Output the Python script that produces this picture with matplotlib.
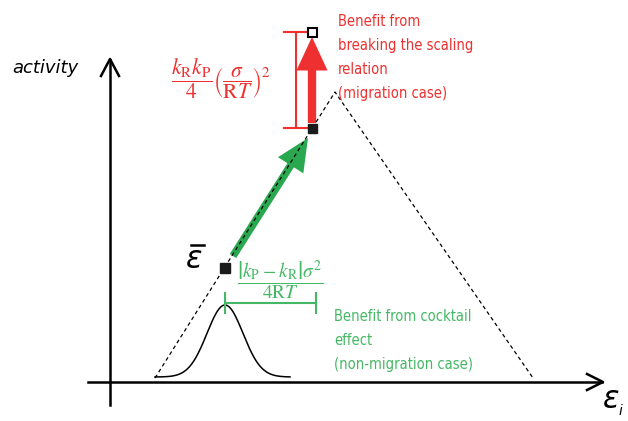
import numpy as np
import matplotlib.pyplot as plt
from matplotlib.patches import FancyArrowPatch, Rectangle

plt.rcParams['mathtext.fontset'] = 'stix'

W, H = 628, 421

# schematic geometry (pixel coordinates, y downward)
tri_x = [155, 335, 533]
tri_y = [378, 92, 378]
gauss_center = 225
gauss_width = 18
gauss_base = 377
gauss_peak = 305
gauss_span = (155, 290)
eps_bar = (225, 268)       # mean energy point (on scaling line)
eps_opt = (312, 128)       # point reached via cocktail effect
eps_break = (312, 32)      # point after breaking scaling relation

RED = '#ee3030'
GREEN = '#2aa84f'
GREEN_TXT = '#44b864'
NARROW = dict(family='DejaVu Sans', fontstretch='condensed')

fig = plt.figure(figsize=(W / 100, H / 100), dpi=100)
ax = fig.add_axes([0, 0, 1, 1])
ax.set_xlim(0, W)
ax.set_ylim(H, 0)
ax.axis('off')

# axes with open arrowheads
ax.plot([110, 110], [405, 60], color='black', lw=1.8)
ax.plot([101, 110, 119], [76, 59, 76], color='black', lw=1.8)
ax.plot([88, 602], [382, 382], color='black', lw=1.8)
ax.plot([587, 603, 587], [374, 382, 390], color='black', lw=1.8)
ax.text(12, 68, 'activity', fontsize=13, style='italic', va='center', ha='left')
ax.text(611, 400, 'ε', fontsize=22, va='center', ha='center', style='italic',
        family='DejaVu Sans')
ax.text(619, 411, 'i', fontsize=10, va='center', ha='left', style='italic',
        family='DejaVu Sans')

# volcano (dashed)
ax.plot(tri_x, tri_y, color='black', lw=0.9, ls=(0, (3, 2.5)))

# distribution
gx = np.linspace(gauss_span[0], gauss_span[1], 200)
gy = gauss_base - (gauss_base - gauss_peak) * np.exp(-0.5 * ((gx - gauss_center) / gauss_width) ** 2)
ax.plot(gx, gy, color='black', lw=1.1)

# points
ax.add_patch(Rectangle((eps_bar[0] - 5, eps_bar[1] - 5), 10, 10, color='#1a1a1a', zorder=5))
ax.add_patch(Rectangle((eps_opt[0] - 4.5, eps_opt[1] - 4.5), 9, 9, color='#1a1a1a', zorder=5))
ax.add_patch(Rectangle((eps_break[0] - 4.5, eps_break[1] - 4.5), 9, 9, facecolor='white',
                       edgecolor='black', lw=1.5, zorder=5))
ax.text(194, 259, 'ε', fontsize=22, va='center', ha='center', style='italic',
        family='DejaVu Sans')
ax.plot([191, 204], [245, 245], color='black', lw=1.8)

# green arrow (cocktail effect)
ax.add_patch(FancyArrowPatch((233, 256), (308, 138),
                             arrowstyle='-|>,head_length=14,head_width=6.5',
                             mutation_scale=1, lw=5.5, color=GREEN, shrinkA=0, shrinkB=0,
                             joinstyle='miter', capstyle='butt'))
# red arrow (breaking scaling relation)
ax.add_patch(FancyArrowPatch((312, 123), (312, 37),
                             arrowstyle='-|>,head_length=14,head_width=6.5',
                             mutation_scale=1, lw=6, color=RED, shrinkA=0, shrinkB=0,
                             joinstyle='miter', capstyle='butt'))

# red bracket
ax.plot([296, 296], [32, 128], color=RED, lw=1.5)
ax.plot([284, 310], [32, 32], color=RED, lw=1.5)
ax.plot([284, 310], [128, 128], color=RED, lw=1.5)
ax.text(221, 79, r'$\dfrac{k_\mathrm{R}k_\mathrm{P}}{4}\left(\dfrac{\sigma}{\mathrm{R}T}\right)^2$',
        fontsize=15.5, color=RED, va='center', ha='center')
ax.text(338, 14, 'Benefit from\nbreaking the scaling\nrelation\n(migration case)',
        fontsize=10.5, color=RED, va='top', ha='left', linespacing=1.75, **NARROW)

# green bracket
ax.plot([225, 316], [303, 303], color=GREEN_TXT, lw=1.5)
ax.plot([225, 225], [293, 313], color=GREEN_TXT, lw=1.5)
ax.plot([316, 316], [293, 313], color=GREEN_TXT, lw=1.5)
ax.text(280, 280, r'$\dfrac{\left|k_\mathrm{P}-k_\mathrm{R}\right|\sigma^2}{4\mathrm{R}T}$',
        fontsize=14, color=GREEN_TXT, va='center', ha='center')
ax.text(334, 309, 'Benefit from cocktail\neffect\n(non-migration case)',
        fontsize=10.5, color=GREEN_TXT, va='top', ha='left', linespacing=1.75, **NARROW)

fig.savefig('out.png', dpi=100)
